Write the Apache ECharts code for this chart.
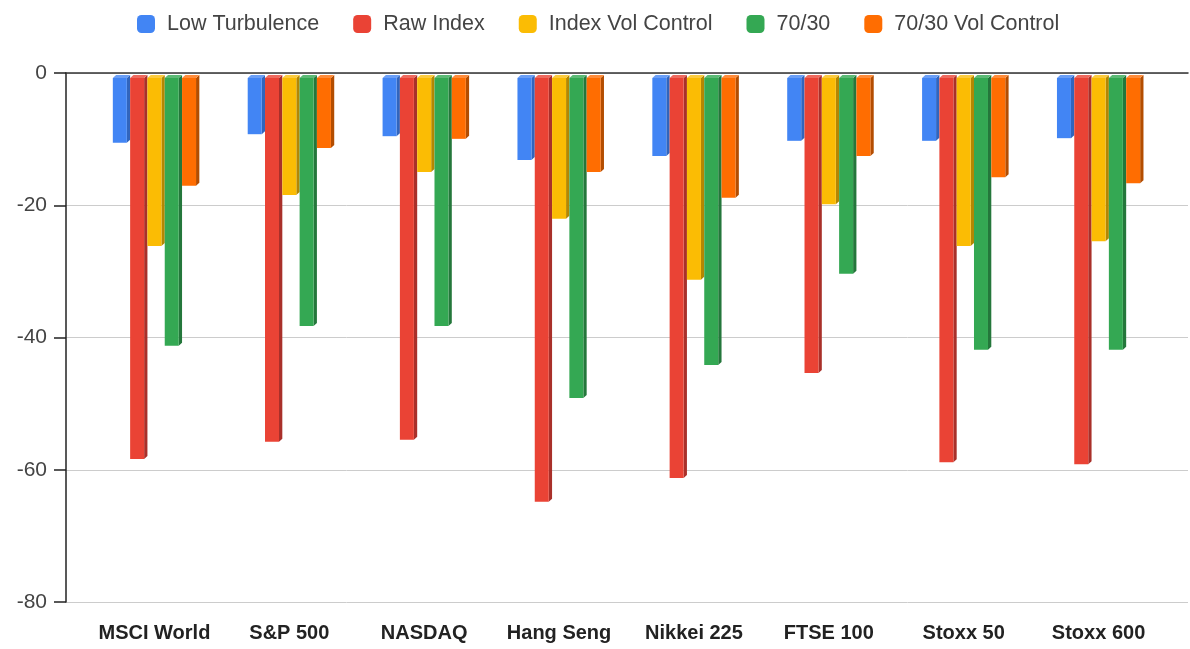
<!DOCTYPE html>
<html>
<head>
<meta charset="utf-8">
<title>Drawdown by strategy</title>
<script src="https://cdn.jsdelivr.net/npm/echarts@6/dist/echarts.min.js"></script>
<style>
  html, body { margin: 0; padding: 0; background: #fff; }
  #chart { width: 1190px; height: 649px; }
</style>
</head>
<body>
<div id="chart"></div>
<script>
// Index names along the x axis
const categories = ['MSCI World', 'S&P 500', 'NASDAQ', 'Hang Seng', 'Nikkei 225', 'FTSE 100', 'Stoxx 50', 'Stoxx 600'];

// Drawdown (%) per strategy, one value per index
const lowTurbulence     = [-9.8, -8.5, -8.8, -12.4, -11.8, -9.5, -9.5, -9.1];
const rawIndex          = [-57.6, -55.0, -54.7, -64.1, -60.5, -44.6, -58.1, -58.4];
const indexVolControl   = [-25.4, -17.7, -14.2, -21.3, -30.5, -19.1, -25.4, -24.7];
const mix7030           = [-40.5, -37.5, -37.5, -48.4, -43.4, -29.6, -41.1, -41.1];
const mix7030VolControl = [-16.3, -10.6, -9.2, -14.2, -18.1, -11.8, -15.0, -15.9];

// Value axis ticks
const yTicks = [0, -20, -40, -60, -80];

const seriesDefs = [
  { name: 'Low Turbulence',     data: lowTurbulence,     face: '#4285f4', side: '#3165bd', top: '#6a9ef6' },
  { name: 'Raw Index',          data: rawIndex,          face: '#ea4335', side: '#a9302a', top: '#ef6a5e' },
  { name: 'Index Vol Control',  data: indexVolControl,   face: '#fbbc04', side: '#b38703', top: '#fccb3e' },
  { name: '70/30',              data: mix7030,           face: '#34a853', side: '#24773b', top: '#5cba75' },
  { name: '70/30 Vol Control',  data: mix7030VolControl, face: '#ff6d01', side: '#b34d01', top: '#ff8c3a' }
];
const nSeries = seriesDefs.length;

// Box-style bar: front face, a darker right side and a lighter top cap
function makeRenderer(idx, def) {
  return function (params, api) {
    const cat = api.value(0);
    const v = api.value(1);
    const p0 = api.coord([cat, 0]);
    const p1 = api.coord([cat, v]);
    const band = api.size([1, 0])[0];
    const period = band * 0.1283;
    const depth = band * 0.0245;
    const front = period - depth;
    const lift = 3;
    const drop = 5;
    const left = p0[0] - ((nSeries - 1) * period + front) / 2 + idx * period;
    const top = p0[1] + drop;
    const bottom = p1[1] + drop;
    return {
      type: 'group',
      children: [
        {
          type: 'polygon',
          shape: { points: [[left + front, top], [left + front + depth, top - lift], [left + front + depth, bottom - lift], [left + front, bottom]] },
          style: { fill: def.side }
        },
        {
          type: 'polygon',
          shape: { points: [[left, top], [left + depth, top - lift], [left + front + depth, top - lift], [left + front, top]] },
          style: { fill: def.top }
        },
        {
          type: 'rect',
          shape: { x: left, y: top, width: front, height: bottom - top },
          style: { fill: def.face }
        }
      ]
    };
  };
}

const chart = echarts.init(document.getElementById('chart'), null, { renderer: 'canvas' });

const option = {
  backgroundColor: '#ffffff',
  animation: false,
  textStyle: { fontFamily: 'Liberation Sans, Arial, sans-serif' },
  legend: {
    top: 8,
    left: 132,
    itemWidth: 18,
    itemHeight: 18,
    itemGap: 34,
    icon: 'roundRect',
    textStyle: { fontSize: 21.5, color: '#444', padding: [0, 0, 0, 7] },
    data: seriesDefs.map(d => d.name)
  },
  grid: [
    { left: 66, right: 2, top: 73, bottom: 47 },
    { left: 87, right: 24, top: 73, bottom: 47 }
  ],
  xAxis: [
    {
      gridIndex: 0, type: 'value', position: 'top', min: 0, max: 1,
      axisLine: { show: true, onZero: false, lineStyle: { color: '#333', width: 1.5 } },
      axisTick: { show: false }, axisLabel: { show: false }, splitLine: { show: false }
    },
    {
      gridIndex: 1, type: 'category', data: categories, position: 'bottom',
      axisLine: { show: false }, axisTick: { show: false }, splitLine: { show: false },
      axisLabel: { margin: 21, fontSize: 20, fontWeight: 'bold', color: '#222', interval: 0 }
    }
  ],
  yAxis: [
    {
      gridIndex: 0, type: 'value', min: yTicks[yTicks.length - 1], max: yTicks[0], interval: 20,
      axisLine: { show: true, lineStyle: { color: '#222', width: 1.5 } },
      axisTick: { show: true, length: 12, lineStyle: { color: '#222', width: 1.5 } },
      axisLabel: { margin: 19, fontSize: 21, color: '#444' },
      splitLine: { show: true, lineStyle: { color: '#cccccc', width: 1 } }
    },
    {
      gridIndex: 1, type: 'value', min: yTicks[yTicks.length - 1], max: yTicks[0],
      show: false, splitLine: { show: false }
    }
  ],
  series: seriesDefs.map((def, i) => ({
    name: def.name,
    type: 'custom',
    xAxisIndex: 1,
    yAxisIndex: 1,
    clip: false,
    itemStyle: { color: def.face },
    renderItem: makeRenderer(i, def),
    encode: { x: 0, y: 1 },
    data: def.data.map((v, c) => [c, v])
  }))
};

chart.setOption(option);
</script>
</body>
</html>
